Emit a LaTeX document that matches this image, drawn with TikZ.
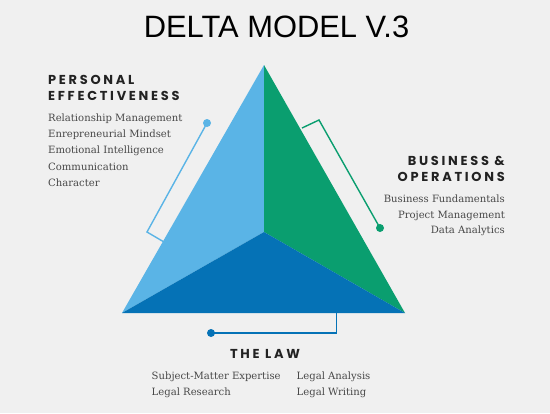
\documentclass[tikz,border=0pt]{standalone}
\usepackage{fontspec}
\setmainfont{DejaVu Serif}
\newfontfamily\titlefont{Liberation Sans}
\newfontfamily\headfont[LetterSpace=21]{Poppins}
\newfontfamily\bodyfont{DejaVu Serif}
\definecolor{bg}{HTML}{F0F0F0}
\definecolor{lblue}{HTML}{5AB4E6}
\definecolor{dgreen}{HTML}{0A9E6F}
\definecolor{dblue}{HTML}{0572B6}
\definecolor{headc}{HTML}{222222}
\definecolor{bodyc}{HTML}{484848}
\tikzset{
  head/.style={font=\headfont\bfseries\fontsize{13}{16}\selectfont, text=headc, inner sep=0pt},
  body/.style={font=\bodyfont\fontsize{10.1}{16}\selectfont, text=bodyc, inner sep=0pt},
  dotc/.style={circle, fill=#1, minimum size=8bp, inner sep=0pt},
  conn/.style={draw=#1, line width=1.4bp},
}
\begin{document}
\begin{tikzpicture}[x=1bp,y=-1bp]
\fill[bg] (0,0) rectangle (550,413);
\useasboundingbox (0,0) rectangle (550,413);
% title
\node[font=\titlefont\fontsize{31}{36}\selectfont, text=black, inner sep=0pt, anchor=base] (title) at (276.5,37.5) {DELTA MODEL V.3};
% triangle
\coordinate (A) at (264,65);
\coordinate (L) at (122,313);
\coordinate (R) at (405,313);
\coordinate (C) at (264,232);
\fill[lblue] (A) -- (C) -- (L) -- cycle;
\fill[dgreen] (A) -- (R) -- (C) -- cycle;
\fill[dblue] (L) -- (C) -- (R) -- cycle;
% left connector
\node[dotc=lblue] (d1) at (207,123) {};
\coordinate (k1) at (147,232);
\coordinate (e1) at (164,242);
\draw[conn=lblue] (d1.center) -- (k1) -- (e1);
% right connector
\coordinate (e2) at (302,128);
\coordinate (k2) at (319,120);
\node[dotc=dgreen] (d2) at (380,228) {};
\draw[conn=dgreen] (e2) -- (k2) -- (d2.center);
% bottom connector
\coordinate (e3) at (336.5,313);
\coordinate (k3) at (336.5,333);
\node[dotc=dblue] (d3) at (211,333) {};
\draw[conn=dblue] (e3) -- (k3) -- (d3.center);
% personal effectiveness
\node[head, anchor=base west] (pe1) at (48,84) {PERSONAL};
\node[head, anchor=base west] (pe2) at (48,100.5) {EFFECTIVENESS};
\node[body, anchor=base west] (pa) at (48,121.7) {Relationship Management};
\node[body, anchor=base west] (pb) at (48,137.8) {Enrepreneurial Mindset};
\node[body, anchor=base west] (pc) at (48,153.9) {Emotional Intelligence};
\node[body, anchor=base west] (pd) at (48,170) {Communication};
\node[body, anchor=base west] (pf) at (48,186) {Character};
% business & operations
\node[head, anchor=base east] (bo1) at (505,165) {BUSINESS \&};
\node[head, anchor=base east] (bo2) at (505,181.5) {OPERATIONS};
\node[body, anchor=base east] (ba) at (505,202.5) {Business Fundamentals};
\node[body, anchor=base east] (bb) at (505,218) {Project Management};
\node[body, anchor=base east] (bc) at (505,233.5) {Data Analytics};
% the law
\node[head, anchor=base] (law) at (265,358.3) {THE LAW};
\node[body, anchor=base west] (la) at (151.5,379.3) {Subject-Matter Expertise};
\node[body, anchor=base west] (lb) at (151.5,395) {Legal Research};
\node[body, anchor=base west] (lc) at (296.5,379.3) {Legal Analysis};
\node[body, anchor=base west] (ld) at (296.5,395) {Legal Writing};
\end{tikzpicture}
\end{document}
